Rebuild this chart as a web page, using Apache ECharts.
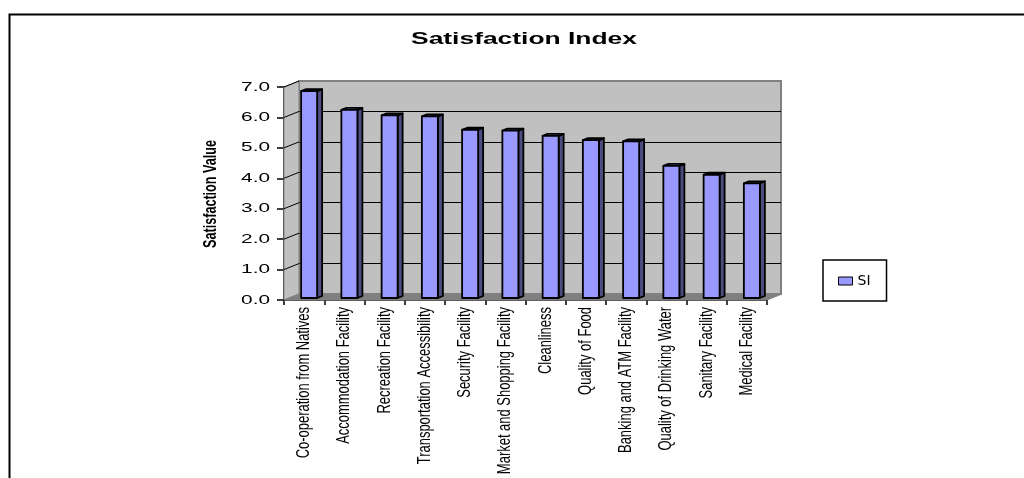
<!DOCTYPE html>
<html>
<head>
<meta charset="utf-8">
<style>
  html, body { margin: 0; padding: 0; background: #fff; overflow: hidden; }
  #chart { width: 1024px; height: 478px; }
</style>
<script src="https://cdn.jsdelivr.net/npm/echarts@6/dist/echarts.min.js"></script>
</head>
<body>
<div id="chart"></div>
<script>
const categories = [
  'Co-operation from Natives', 'Accommodation Facility', 'Recreation Facility',
  'Transportation Accessibility', 'Security Facility', 'Market and Shopping Facility',
  'Cleanliness', 'Quality of Food', 'Banking and ATM Facility',
  'Quality of Drinking Water', 'Sanitary Facility', 'Medical Facility'
];
const siValues = [6.8, 6.18, 6.0, 5.97, 5.53, 5.5, 5.33, 5.19, 5.15, 4.34, 4.05, 3.77];
const yTicks = [0, 1, 2, 3, 4, 5, 6, 7];

// depth of the fake 3D box, in pixels
const DX = 15, DY = -6;
const BAR_W = 16;

const chart = echarts.init(document.getElementById('chart'));

// side wall and floor, tied to the front grid
function renderWalls(params, api) {
  const c = params.coordSys;
  const x0 = c.x, x1 = c.x + c.width, y0 = c.y, y1 = c.y + c.height;
  const kids = [
    { type: 'polygon', shape: { points: [[x0, y0], [x0 + DX, y0 + DY], [x0 + DX, y1 + DY], [x0, y1]] },
      style: { fill: '#c0c0c0', stroke: '#808080', lineWidth: 1 } },
    { type: 'polygon', shape: { points: [[x0, y1], [x0 + DX, y1 + DY], [x1 + DX, y1 + DY], [x1, y1]] },
      style: { fill: '#808080', stroke: '#808080', lineWidth: 1 } }
  ];
  yTicks.slice(1).forEach(v => {
    const y = api.coord([0, v])[1];
    kids.push({ type: 'line', shape: { x1: x0, y1: y, x2: x0 + DX, y2: y + DY },
      style: { stroke: '#000', lineWidth: 1 } });
  });
  return { type: 'group', children: kids };
}

function renderBar(params, api) {
  const p = api.coord([api.value(0), api.value(1)]);
  const base = api.coord([api.value(0), 0]);
  const x = p[0] + 5 - BAR_W / 2, w = BAR_W, top = p[1] - 2, bot = base[1] - 2;
  const dx = 5, dy = -2;
  const line = { stroke: '#000', lineWidth: 1.8, lineJoin: 'round' };
  return {
    type: 'group',
    children: [
      { type: 'polygon', shape: { points: [[x + w, top], [x + w + dx, top + dy], [x + w + dx, bot + dy], [x + w, bot]] },
        style: Object.assign({ fill: '#4d4d80' }, line) },
      { type: 'polygon', shape: { points: [[x, top], [x + dx, top + dy], [x + w + dx, top + dy], [x + w, top]] },
        style: Object.assign({ fill: '#7a7acc' }, line) },
      { type: 'rect', shape: { x: x, y: top, width: w, height: bot - top },
        style: Object.assign({ fill: '#9999ff' }, line) }
    ]
  };
}

// the original text is squeezed/stretched, axisLabel can't scale so draw it here
function renderCatLabel(params, api) {
  const i = api.value(0);
  const p = api.coord([i, 0]);
  return {
    type: 'text', x: p[0], y: p[1] + 7, rotation: Math.PI / 2, scaleX: 0.72, scaleY: 1,
    style: { text: categories[i], fill: '#000', fontFamily: 'Liberation Sans', fontSize: 18,
      textAlign: 'right', textVerticalAlign: 'middle' }
  };
}

function renderYLabel(params, api) {
  const v = api.value(1);
  const p = api.coord([0, v]);
  const c = params.coordSys;
  return {
    type: 'text', x: c.x - 14, y: p[1], scaleX: 1.6, scaleY: 1,
    style: { text: v.toFixed(1), fill: '#000', fontFamily: 'Liberation Sans', fontSize: 13,
      textAlign: 'right', textVerticalAlign: 'middle' }
  };
}

chart.setOption({
  animation: false,
  legend: {
    left: 823, top: 260,
    orient: 'vertical',
    padding: [14, 16, 13, 15],
    backgroundColor: '#fff',
    borderColor: '#000', borderWidth: 1.5, borderRadius: 0,
    itemWidth: 14, itemHeight: 8, itemGap: 0,
    data: [{ name: 'SI', icon: 'rect', itemStyle: { color: '#9999ff', borderColor: '#000', borderWidth: 1 } }],
    textStyle: { fontFamily: 'DejaVu Sans', fontSize: 14, color: '#000' }
  },
  grid: [
    { left: 284, top: 87, width: 483, height: 213, outerBoundsMode: 'none' },
    { left: 299, top: 81, width: 482, height: 213, outerBoundsMode: 'none', show: true,
      backgroundColor: '#c0c0c0', borderColor: '#808080', borderWidth: 2 }
  ],
  xAxis: [
    { type: 'category', gridIndex: 0, data: categories,
      axisLine: { lineStyle: { color: '#000', width: 1.5 } },
      axisTick: { show: true, interval: 0, length: 5, lineStyle: { color: '#000', width: 1.5 } },
      axisLabel: { show: false } },
    { type: 'category', gridIndex: 1, data: categories, show: false }
  ],
  yAxis: [
    { type: 'value', gridIndex: 0, min: 0, max: 7, interval: 1,
      axisLine: { show: true, lineStyle: { color: '#000', width: 1.5 } },
      axisTick: { show: true, length: 7, lineStyle: { color: '#000', width: 1.5 } },
      splitLine: { show: false },
      axisLabel: { show: false } },
    { type: 'value', gridIndex: 1, min: 0, max: 7, interval: 1,
      axisLine: { show: false }, axisTick: { show: false }, axisLabel: { show: false },
      splitLine: { show: true, showMinLine: false, showMaxLine: false, lineStyle: { color: '#000', width: 1 } } }
  ],
  series: [
    { type: 'custom', xAxisIndex: 0, yAxisIndex: 0, renderItem: renderWalls,
      data: [[0, 0]], silent: true, z: 1, clip: false, legendHoverLink: false },
    { name: 'SI', type: 'custom', xAxisIndex: 0, yAxisIndex: 0, renderItem: renderBar,
      data: siValues.map((v, i) => [i, v]), z: 3, clip: false,
      itemStyle: { color: '#9999ff' }, encode: { x: 0, y: 1 } },
    { type: 'custom', xAxisIndex: 0, yAxisIndex: 0, renderItem: renderCatLabel,
      data: categories.map((c, i) => [i, 0]), silent: true, z: 4, clip: false },
    { type: 'custom', xAxisIndex: 0, yAxisIndex: 0, renderItem: renderYLabel,
      data: yTicks.map(v => [0, v]), silent: true, z: 4, clip: false }
  ],
  graphic: [
    { type: 'polyline', silent: true,
      shape: { points: [[9.5, 478], [9.5, 14.5], [1024, 14.5]] },
      style: { fill: 'none', stroke: '#000', lineWidth: 2 } },
    { type: 'text', silent: true, x: 524, y: 40, scaleX: 1.65, scaleY: 1,
      style: { text: 'Satisfaction Index', fill: '#000', fontFamily: 'Liberation Sans', fontWeight: 'bold',
        fontSize: 16, textAlign: 'center', textVerticalAlign: 'middle' } },
    { type: 'text', silent: true, x: 211, y: 194, rotation: Math.PI / 2, scaleX: 0.7, scaleY: 1,
      style: { text: 'Satisfaction Value', fill: '#000', fontFamily: 'Liberation Sans', fontWeight: 'bold',
        fontSize: 18, textAlign: 'center', textVerticalAlign: 'middle' } }
  ]
});
</script>
</body>
</html>
